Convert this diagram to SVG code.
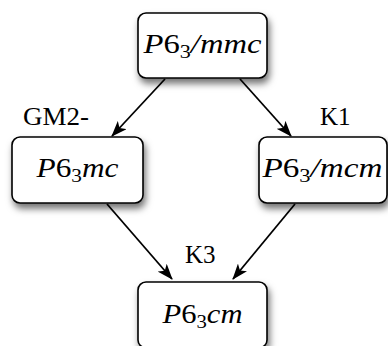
<svg xmlns="http://www.w3.org/2000/svg" width="388" height="346" viewBox="0 0 388 346">
<style>
text{font-family:'Liberation Serif','Times New Roman','DejaVu Serif',Times,serif;fill:#000}
.box{fill:#fff;stroke:#000;stroke-width:1.6;filter:url(#sh)}
.m{font-size:28px;font-style:italic}
.r{font-style:normal}
.sub{font-style:normal;font-size:19px}
.lbl{font-size:25px}
.edge{stroke:#000;stroke-width:1.8;fill:none;marker-end:url(#ah)}
</style>
<defs>
<filter id="sh" x="-20%" y="-20%" width="150%" height="160%">
<feDropShadow dx="2" dy="5" stdDeviation="3.5" flood-color="#000" flood-opacity="0.55"/>
</filter>
<marker id="ah" viewBox="0 0 16 12" refX="15" refY="6" markerWidth="16" markerHeight="12" markerUnits="userSpaceOnUse" orient="auto">
<path d="M0,0 L16,6 L0,12 L4,6 Z" fill="#000"/>
</marker>
</defs>
<g id="connectors">
<line class="edge" x1="165" y1="79" x2="112" y2="136"/>
<line class="edge" x1="240" y1="79" x2="291" y2="136"/>
<line class="edge" x1="107" y1="204" x2="172" y2="279"/>
<line class="edge" x1="295" y1="204" x2="233" y2="279"/>
</g>
<g id="n-top">
<rect class="box" x="138" y="13" width="129" height="65" rx="8"/>
<text class="m" x="202.5" y="53" text-anchor="middle" textLength="118" lengthAdjust="spacingAndGlyphs">P<tspan class="r">6</tspan><tspan class="sub" dy="5">3</tspan><tspan dy="-5">/mmc</tspan></text>
</g>
<g id="n-left">
<rect class="box" x="12" y="137" width="131" height="66" rx="8"/>
<text class="m" x="77.5" y="177" text-anchor="middle" textLength="82" lengthAdjust="spacingAndGlyphs">P<tspan class="r">6</tspan><tspan class="sub" dy="5">3</tspan><tspan dy="-5">mc</tspan></text>
</g>
<g id="n-right">
<rect class="box" x="259" y="137" width="128" height="66" rx="8"/>
<text class="m" x="322.5" y="177" text-anchor="middle" textLength="120" lengthAdjust="spacingAndGlyphs">P<tspan class="r">6</tspan><tspan class="sub" dy="5">3</tspan><tspan dy="-5">/mcm</tspan></text>
</g>
<g id="n-bottom">
<rect class="box" x="138" y="282" width="129" height="66" rx="8"/>
<text class="m" x="202.5" y="323" text-anchor="middle" textLength="80" lengthAdjust="spacingAndGlyphs">P<tspan class="r">6</tspan><tspan class="sub" dy="5">3</tspan><tspan dy="-5">cm</tspan></text>
</g>
<g id="labels">
<text class="lbl" x="23" y="125" textLength="66" lengthAdjust="spacingAndGlyphs">GM2-</text>
<text class="lbl" x="320" y="125">K1</text>
<text class="lbl" x="185" y="263">K3</text>
</g>
</svg>
